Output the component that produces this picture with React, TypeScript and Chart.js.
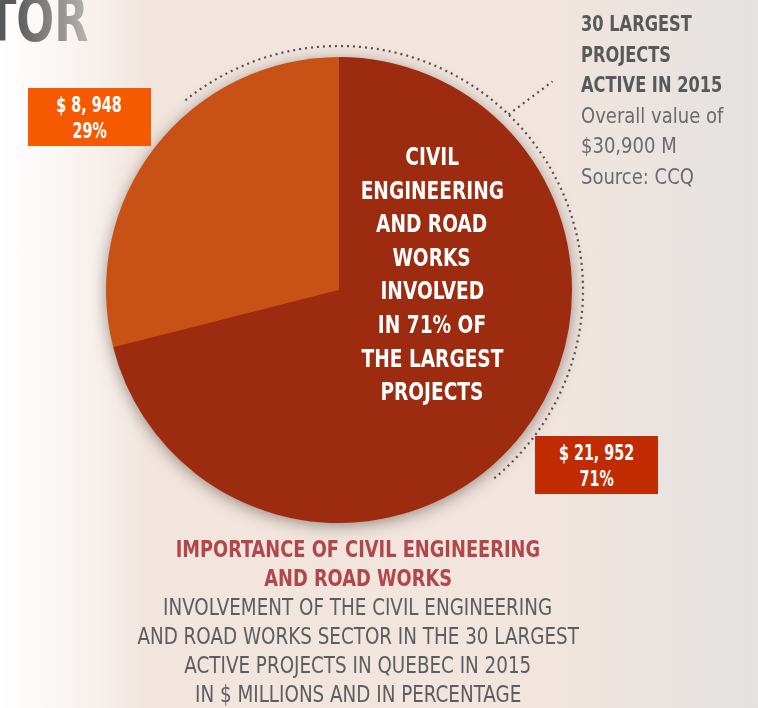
import React, { useEffect, useRef } from "react";
import Chart from "chart.js/auto";

const categories = ["Civil engineering and road works", "Other sectors"];
const valuesMillions = [21952, 8948];
const valueLabels = ["$ 21, 952", "$ 8, 948"];
const percentLabels = ["71%", "29%"];
const sliceColors = ["#9c2b0f", "#c85115"];

const centerLines = ["CIVIL", "ENGINEERING", "AND ROAD", "WORKS", "INVOLVED", "IN 71% OF", "THE LARGEST", "PROJECTS"];
const sideBold = ["30 LARGEST", "PROJECTS", "ACTIVE IN 2015"];
const sideRegular = ["Overall value of", "$30,900 M", "Source: CCQ"];
const titleLines = ["IMPORTANCE OF CIVIL ENGINEERING", "AND ROAD WORKS"];
const subtitleLines = [
  "INVOLVEMENT OF THE CIVIL ENGINEERING",
  "AND ROAD WORKS SECTOR IN THE 30 LARGEST",
  "ACTIVE PROJECTS IN QUEBEC IN 2015",
  "IN $ MILLIONS AND IN PERCENTAGE",
];

const FONT = '"DejaVu Sans Condensed", "DejaVu Sans", sans-serif';

const decorPlugin = {
  id: "decor",
  beforeDatasetsDraw(chart: any) {
    const arc = chart.getDatasetMeta(0).data[0];
    if (!arc) return;
    const { x, y, outerRadius } = arc.getProps(["x", "y", "outerRadius"], true);
    const ctx = chart.ctx;
    ctx.save();
    ctx.shadowColor = "rgba(70,50,40,0.55)";
    ctx.shadowBlur = 16;
    ctx.shadowOffsetY = 3;
    ctx.fillStyle = sliceColors[0];
    ctx.beginPath();
    ctx.arc(x, y, outerRadius - 1, 0, Math.PI * 2);
    ctx.fill();
    ctx.restore();
  },
  afterDatasetsDraw(chart: any) {
    const arc = chart.getDatasetMeta(0).data[0];
    if (!arc) return;
    const { x, y, outerRadius } = arc.getProps(["x", "y", "outerRadius"], true);
    const ctx = chart.ctx;
    const r = outerRadius + 11;
    ctx.save();
    ctx.strokeStyle = "#4f5154";
    ctx.lineWidth = 2.2;
    ctx.setLineDash([2, 4]);
    ctx.beginPath();
    ctx.arc(x, y, r, (-129 * Math.PI) / 180, (51 * Math.PI) / 180);
    ctx.stroke();
    const a = (-46 * Math.PI) / 180;
    const sx = x + r * Math.cos(a);
    const sy = y + r * Math.sin(a);
    ctx.beginPath();
    ctx.moveTo(sx, sy);
    ctx.lineTo(sx + 44, sy - 33);
    ctx.stroke();
    ctx.restore();
  },
};

function Line(props: { text: string; k: number; align: "left" | "center"; style?: React.CSSProperties }) {
  return (
    <div style={{ textAlign: props.align, whiteSpace: "nowrap", ...props.style }}>
      <span
        style={{
          display: "inline-block",
          transform: `scaleX(${props.k})`,
          transformOrigin: props.align === "left" ? "left center" : "center center",
        }}
      >
        {props.text}
      </span>
    </div>
  );
}

function Box(props: { left: number; top: number; bg: string; lines: string[] }) {
  return (
    <div
      style={{
        position: "absolute",
        left: props.left,
        top: props.top,
        width: 123,
        height: 58,
        background: props.bg,
        color: "#fff",
        fontFamily: FONT,
        fontWeight: 700,
        fontSize: 21,
        lineHeight: "26px",
        paddingTop: 4,
        boxSizing: "border-box",
      }}
    >
      {props.lines.map((l, i) => (
        <Line key={i} text={l} k={0.76} align="center" />
      ))}
    </div>
  );
}

export default function App() {
  const canvasRef = useRef<HTMLCanvasElement>(null);

  useEffect(() => {
    document.body.style.margin = "0";
    const chart = new Chart(canvasRef.current!, {
      type: "pie",
      data: {
        labels: categories,
        datasets: [
          {
            data: valuesMillions,
            backgroundColor: sliceColors,
            borderWidth: 0,
          },
        ],
      },
      options: {
        animation: false,
        responsive: false,
        layout: { padding: { left: 106, right: 186, top: 57, bottom: 185 } },
        plugins: { legend: { display: false }, tooltip: { enabled: false } },
      },
      plugins: [decorPlugin],
    });
    return () => chart.destroy();
  }, []);

  return (
    <div
      style={{
        position: "absolute",
        left: 0,
        top: 0,
        width: 758,
        height: 708,
        overflow: "hidden",
        background:
          "linear-gradient(to right, #ffffff 0px, rgba(255,255,255,0.6) 70px, rgba(255,255,255,0) 150px), linear-gradient(to left, rgba(226,226,226,0.9) 0px, rgba(226,226,226,0) 200px), #f1e5de",
      }}
    >
      <div
        style={{
          position: "absolute",
          right: 758 - 89,
          top: -17,
          fontFamily: FONT,
          fontWeight: 700,
          fontSize: 62,
          whiteSpace: "nowrap",
          transform: "scaleX(0.8)",
          transformOrigin: "right center",
          background: "linear-gradient(to right, #58595b 0px, #58595b 62%, #b9b4b1 100%)",
          WebkitBackgroundClip: "text",
          backgroundClip: "text",
          color: "transparent",
        }}
      >
        SECTOR
      </div>

      <canvas ref={canvasRef} width={758} height={708} style={{ position: "absolute", left: 0, top: 0 }} />

      <div
        style={{
          position: "absolute",
          left: 332,
          top: 141,
          width: 200,
          color: "#fff",
          fontFamily: FONT,
          fontWeight: 700,
          fontSize: 24,
          lineHeight: "33.6px",
        }}
      >
        {centerLines.map((l, i) => (
          <Line key={i} text={l} k={0.86} align="center" />
        ))}
      </div>

      <Box left={28} top={88} bg="#f55a00" lines={[valueLabels[1], percentLabels[1]]} />
      <Box left={535} top={436} bg="#c12b02" lines={[valueLabels[0], percentLabels[0]]} />

      <div
        style={{
          position: "absolute",
          left: 581,
          top: 9,
          fontFamily: FONT,
          fontSize: 22,
          lineHeight: "30.5px",
        }}
      >
        {sideBold.map((l, i) => (
          <Line key={"b" + i} text={l} k={0.82} align="left" style={{ fontWeight: 700, color: "#58595b" }} />
        ))}
        {sideRegular.map((l, i) => (
          <Line key={"r" + i} text={l} k={0.91} align="left" style={{ fontWeight: 400, color: "#6a6b6e" }} />
        ))}
      </div>

      <div
        style={{
          position: "absolute",
          left: 108,
          top: 535,
          width: 500,
          fontFamily: FONT,
          fontSize: 23,
          lineHeight: "29px",
        }}
      >
        {titleLines.map((l, i) => (
          <Line key={"t" + i} text={l} k={0.86} align="center" style={{ fontWeight: 700, color: "#b0474a" }} />
        ))}
        {subtitleLines.map((l, i) => (
          <Line key={"s" + i} text={l} k={0.886} align="center" style={{ fontWeight: 400, color: "#5b5d60" }} />
        ))}
      </div>
    </div>
  );
}
